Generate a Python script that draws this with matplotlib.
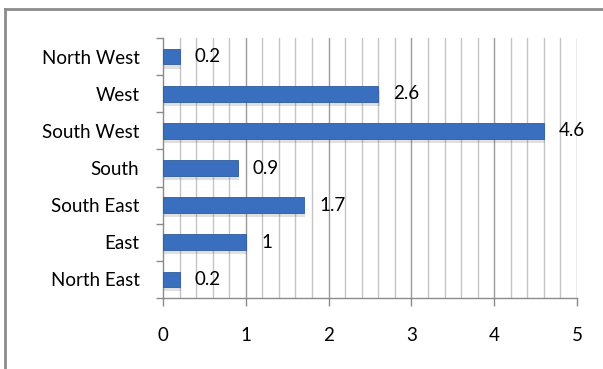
import numpy as np
import matplotlib
matplotlib.use("Agg")
import matplotlib.pyplot as plt
import matplotlib.patheffects as pe
from matplotlib.lines import Line2D

# data, bottom to top
regions = ["North East", "East", "South East", "South", "South West", "West", "North West"]
values = [0.2, 1, 1.7, 0.9, 4.6, 2.6, 0.2]
value_labels = ["0.2", "1", "1.7", "0.9", "4.6", "2.6", "0.2"]
xticks = [0, 1, 2, 3, 4, 5]

plt.rcParams['font.family'] = ['Lato', 'DejaVu Sans']

fig = plt.figure(figsize=(6.03, 3.69), dpi=100)
ax = fig.add_axes([163 / 603, 1 - 298 / 369, 414 / 603, 260 / 369])

y = np.arange(len(regions))
bars = ax.barh(y, values, height=0.42, color="#3A6EBE", edgecolor="#2F5C9E",
               linewidth=0.6, zorder=3)
for b in bars:
    b.set_path_effects([pe.SimplePatchShadow(offset=(1, -3), alpha=0.2, shadow_rgbFace="#666666"),
                        pe.Normal()])

for yi, v, lab in zip(y, values, value_labels):
    ax.annotate(lab, (v, yi), xytext=(11, 0), textcoords="offset points",
                va="center", ha="left", fontsize=13.5, color="black")

ax.set_xlim(0, 5)
ax.set_ylim(-0.5, len(regions) - 0.5)

# gridlines: minor every 0.2, major at integers
for gx in np.arange(0.2, 5.01, 0.2):
    major = abs(gx - round(gx)) < 1e-6
    ax.axvline(gx, color="#9a9a9a" if major else "#c4c4c4", lw=1.0, zorder=1)

ax.set_xticks(xticks)
ax.set_xticklabels([str(t) for t in xticks], fontsize=13.5)
ax.set_yticks(y)
ax.set_yticklabels(regions, fontsize=13.5)
ax.tick_params(axis="y", length=0, pad=17)
ax.tick_params(axis="x", length=6, width=1, color="#8a8a8a", pad=15)

# category boundary ticks on y axis
ax.set_yticks(np.arange(-0.5, len(regions), 1.0), minor=True)
ax.tick_params(axis="y", which="minor", length=5, width=1, color="#8a8a8a")

for s in ["top", "right"]:
    ax.spines[s].set_visible(False)
for s in ["left", "bottom"]:
    ax.spines[s].set_color("#8a8a8a")
    ax.spines[s].set_linewidth(1)

# chart area border (left and top visible)
fig.add_artist(Line2D([5 / 603, 5 / 603], [0, 1 - 9 / 369], color="#8c8c8c", lw=2))
fig.add_artist(Line2D([5 / 603, 1], [1 - 9 / 369, 1 - 9 / 369], color="#8c8c8c", lw=2))

fig.savefig("out.png", dpi=100)
